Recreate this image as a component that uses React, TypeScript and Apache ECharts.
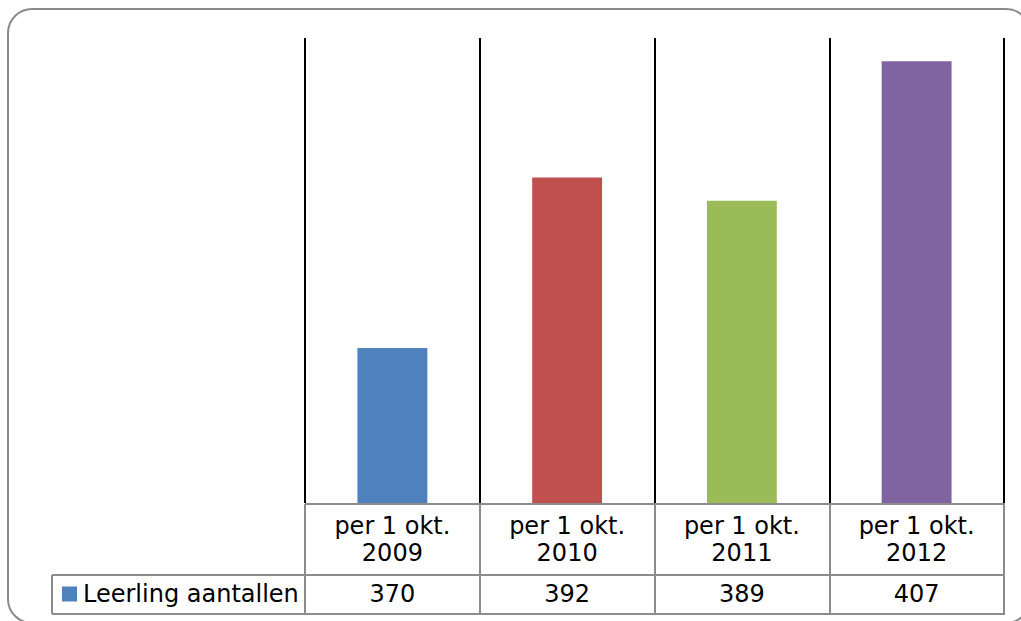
import React, { useEffect, useRef } from "react";
import * as echarts from "echarts";

const seriesName = "Leerling aantallen";
const categories = ["per 1 okt.\n2009", "per 1 okt.\n2010", "per 1 okt.\n2011", "per 1 okt.\n2012"];
const values = [370, 392, 389, 407];
const barColors = ["#4F81BD", "#C0504D", "#9BBB59", "#8064A2"];

const FONT = "DejaVu Sans";
const GRAY = "#8c8c8c";

export default function App() {
  const ref = useRef<HTMLDivElement>(null);
  useEffect(() => {
    if (!ref.current) return;
    const chart = echarts.init(ref.current, null, { renderer: "svg" });
    const tableLines: any[] = [];
    const hl = (x1: number, x2: number, y: number) =>
      tableLines.push({ type: "line", shape: { x1, y1: y, x2, y2: y }, style: { stroke: GRAY, lineWidth: 2 }, z: 10 });
    const vl = (x: number, y1: number, y2: number) =>
      tableLines.push({ type: "line", shape: { x1: x, y1, x2: x, y2 }, style: { stroke: GRAY, lineWidth: 2 }, z: 10 });
    hl(305, 1005, 504);
    hl(52, 1005, 575);
    hl(52, 1005, 614);
    [305, 480, 655, 830, 1004].forEach((x) => vl(x, 504, 614));
    vl(52, 575, 614);

    chart.setOption({
      animation: false,
      backgroundColor: "#ffffff",
      textStyle: { fontFamily: FONT },
      grid: { left: 305, right: 17, top: 38, bottom: 118, containLabel: false },
      legend: {
        data: [seriesName],
        left: 62,
        top: 582,
        padding: 0,
        itemWidth: 15,
        itemHeight: 15,
        itemGap: 5,
        icon: "rect",
        textStyle: { fontSize: 24, color: "#000", fontFamily: FONT, padding: [0, 0, 0, 1] },
      },
      xAxis: [
        {
          type: "category",
          data: categories,
          position: "bottom",
          axisLine: { show: false },
          axisTick: { show: false },
          splitLine: { show: true, lineStyle: { color: "#000", width: 2 } },
          axisLabel: {
            color: "#000",
            fontSize: 24,
            fontFamily: FONT,
            lineHeight: 27,
            margin: 9,
            interval: 0,
          },
        },
        {
          type: "category",
          data: values.map(String),
          position: "bottom",
          offset: 70,
          axisLine: { show: false },
          axisTick: { show: false },
          splitLine: { show: false },
          axisLabel: {
            color: "#000",
            fontSize: 24,
            fontFamily: FONT,
            lineHeight: 27,
            margin: 7,
            interval: 0,
          },
        },
      ],
      yAxis: {
        type: "value",
        min: 350,
        max: 410,
        show: false,
        splitLine: { show: false },
      },
      series: [
        {
          name: seriesName,
          type: "bar",
          xAxisIndex: 0,
          barWidth: "40%",
          itemStyle: { color: barColors[0] },
          data: values.map((v, i) => ({ value: v, itemStyle: { color: barColors[i] } })),
        },
      ],
      graphic: [
        {
          type: "rect",
          shape: { x: 8, y: 9, width: 1022, height: 614, r: 24 },
          style: { fill: "none", stroke: "#8a8a8a", lineWidth: 2 },
          z: 20,
        },
        ...tableLines,
      ],
    });
    return () => chart.dispose();
  }, []);
  return (
    <div
      ref={ref}
      style={{ position: "fixed", left: 0, top: 0, width: 1021, height: 621 }}
    />
  );
}
